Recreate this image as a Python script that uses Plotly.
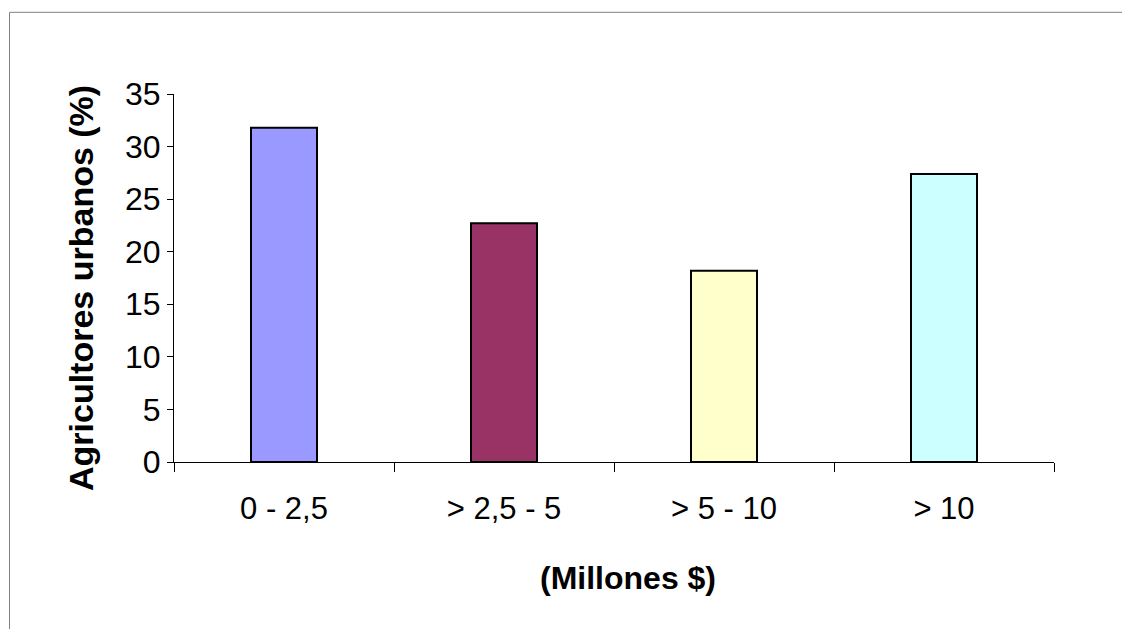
import plotly.graph_objects as go

categories = ["0 - 2,5", "> 2,5 - 5", "> 5 - 10", "> 10"]
values = [31.8, 22.7, 18.2, 27.4]
colors = ["#9999FF", "#993366", "#FFFFCC", "#CCFFFF"]
y_ticks = [0, 5, 10, 15, 20, 25, 30, 35]
x_title = "(Millones $)"
y_title = "Agricultores urbanos (%)"

OFF = 8  # default page body margin
W, H = 1130 - OFF, 629 - OFF
# plot area in page pixels
px0, px1, py0, py1 = 174, 1054, 94, 462
L, R, T, B = px0 - OFF, W - (px1 - OFF), py0 - OFF, H - (py1 - OFF)
pw, ph = px1 - px0, py1 - py0


def xp(page_x):
    return (page_x - px0) / pw


def yp(page_y):
    return (py1 - page_y) / ph


fig = go.Figure(go.Bar(
    x=categories, y=values, width=0.3,
    marker=dict(color=colors, line=dict(color="black", width=2)),
))

font = dict(family="Arial, Liberation Sans, sans-serif", color="black")

fig.update_layout(
    width=W, height=H,
    margin=dict(l=L, r=R, t=T, b=B, autoexpand=False),
    paper_bgcolor="white", plot_bgcolor="white",
    showlegend=False,
    xaxis=dict(
        type="category", tickson="boundaries", ticks="outside", ticklen=9,
        tickcolor="black", tickwidth=1, showline=True, linecolor="black", linewidth=1,
        showgrid=False, zeroline=False, range=[-0.5, 3.5],
        tickfont=dict(size=31, **font), ticklabelstandoff=19,
    ),
    yaxis=dict(
        range=[0, 35], tickvals=y_ticks, ticks="outside", ticklen=6,
        tickcolor="black", tickwidth=1, showline=True, linecolor="black", linewidth=1,
        showgrid=False, zeroline=False,
        tickfont=dict(size=32, **font),
    ),
    annotations=[
        dict(text="<b>" + x_title + "</b>", xref="paper", yref="paper",
             x=xp(628), y=yp(578), showarrow=False,
             xanchor="center", yanchor="middle", font=dict(size=32, **font)),
        dict(text="<b>" + y_title + "</b>", xref="paper", yref="paper",
             x=xp(81), y=yp(288), showarrow=False, textangle=-90,
             xanchor="center", yanchor="middle", font=dict(size=34, **font)),
    ],
    shapes=[
        dict(type="rect", xref="paper", yref="paper",
             x0=xp(9.5), x1=xp(1160), y0=yp(660), y1=yp(12.3),
             line=dict(color="#808080", width=1), fillcolor="rgba(0,0,0,0)", layer="below"),
    ],
)

fig.write_html("out.html")
